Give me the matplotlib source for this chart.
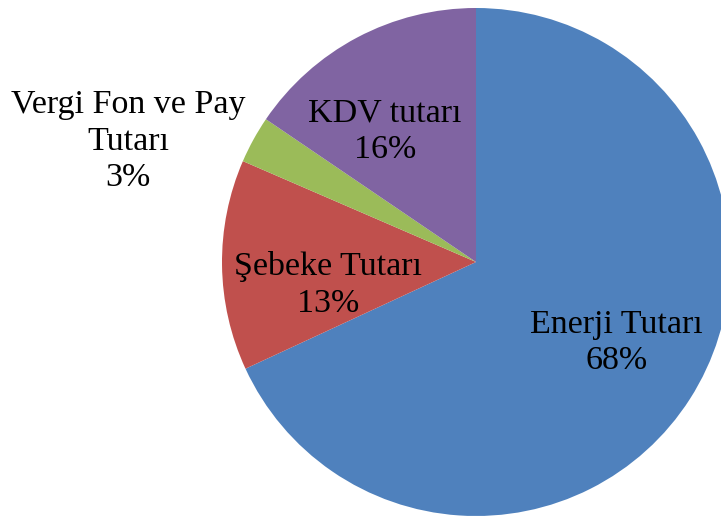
import matplotlib
matplotlib.use('Agg')
import matplotlib.pyplot as plt

# Slice data, clockwise from the top
labels = ["Enerji Tutarı", "Şebeke Tutarı", "Vergi Fon ve Pay\nTutarı", "KDV tutarı"]
shares = [68.1, 13.4, 3.0, 15.5]
colors = ['#4F81BD', '#C0504D', '#9BBB59', '#8064A2']

# Label centres in data units (pie radius = 1)
label_pos = [(0.553, -0.318), (-0.583, -0.090), (-1.37, 0.475), (-0.358, 0.515)]

plt.rcParams['font.family'] = ['Liberation Serif', 'DejaVu Serif']

fig = plt.figure(figsize=(7.21, 5.17), dpi=100)
ax = fig.add_axes([0, 0, 1, 1])
ax.axis('off')

ax.pie(shares, colors=colors, startangle=90, counterclock=False, radius=1,
       wedgeprops=dict(linewidth=0))

for lab, val, (x, y) in zip(labels, shares, label_pos):
    ax.text(x, y, f"{lab}\n{val:.0f}%", ha='center', va='center',
            fontsize=24.5, linespacing=1.25, color='black')

ax.set_xlim(-476 / 254, 245 / 254)
ax.set_ylim(-255 / 254, 262 / 254)
ax.set_aspect('auto')

fig.savefig("out.png", dpi=100)
